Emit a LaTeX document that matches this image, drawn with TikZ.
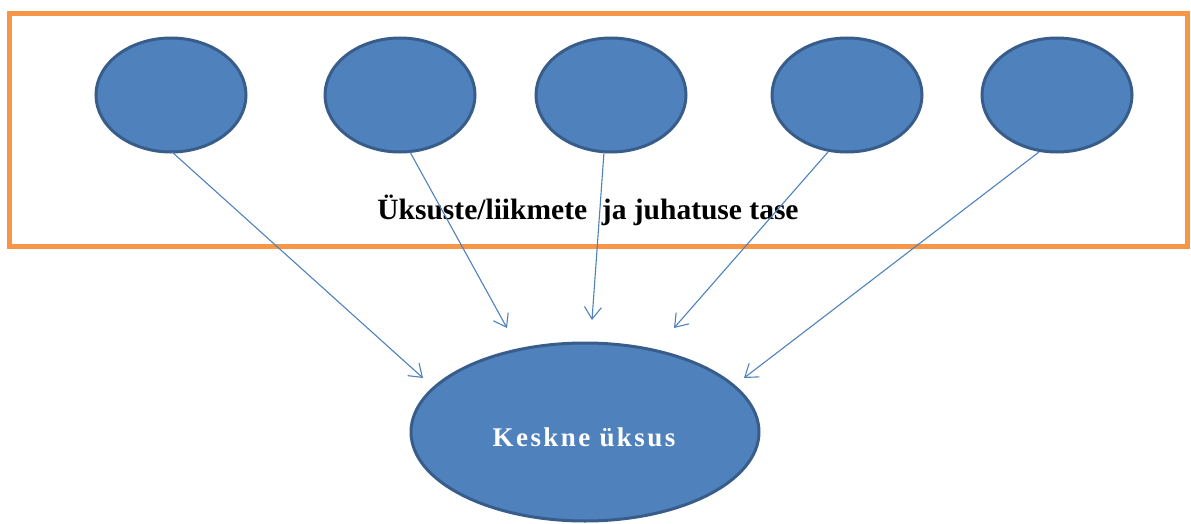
\documentclass[tikz,border=0pt]{standalone}
\usepackage{fontspec}
\setmainfont{Liberation Serif}
\newfontfamily\spacedserif[LetterSpace=9]{Liberation Serif}
\usetikzlibrary{shapes.geometric,arrows.meta}
\definecolor{unitfill}{HTML}{4F81BD}
\definecolor{unitedge}{HTML}{385D8A}
\definecolor{frameorange}{HTML}{F79646}
\definecolor{linkblue}{HTML}{4F81BD}
\tikzset{
  unit/.style={ellipse, fill=unitfill, draw=unitedge, line width=3pt,
    inner sep=0pt, minimum width=150pt, minimum height=114pt},
  centre/.style={unit, minimum width=348pt, minimum height=178pt},
  link/.style={draw=linkblue, line width=1.1pt,
    -{Straight Barb[length=12pt,width=17pt,line width=1.1pt]}},
  frame/.style={draw=frameorange, line width=5pt},
}
\begin{document}
\begin{tikzpicture}[x=1pt,y=-1pt]
\useasboundingbox (0,0) rectangle (1191,524);
% level frame
\node[frame, minimum width=1178pt, minimum height=233pt, inner sep=0pt] (lvl) at (598.5,130) {};
% member units
\node[unit] (e1) at (171,95) {};
\node[unit] (e2) at (400,95) {};
\node[unit] (e3) at (611,95) {};
\node[unit] (e4) at (847,95) {};
\node[unit] (e5) at (1057,95) {};
% central unit
\node[centre] (c) at (585,432) {};
\node[text=white, font=\spacedserif\bfseries\fontsize{27}{32}\selectfont] (ct) at (584,437) {Keskne üksus};
\node[font=\bfseries\fontsize{29.5}{34}\selectfont] (lt) at (588,210) {Üksuste/liikmete \ ja juhatuse tase};
% connector start and end points
\coordinate (s1) at (172,152);
\coordinate (s2) at (410,152);
\coordinate (s3) at (604,152);
\coordinate (s4) at (828,152);
\coordinate (s5) at (1039,152);
\coordinate (t1) at (423,378);
\coordinate (t2) at (507,328);
\coordinate (t3) at (592,320);
\coordinate (t4) at (674,328);
\coordinate (t5) at (744,378);
\foreach \i in {1,...,5} \draw[link] (s\i) -- (t\i);
\end{tikzpicture}
\end{document}
